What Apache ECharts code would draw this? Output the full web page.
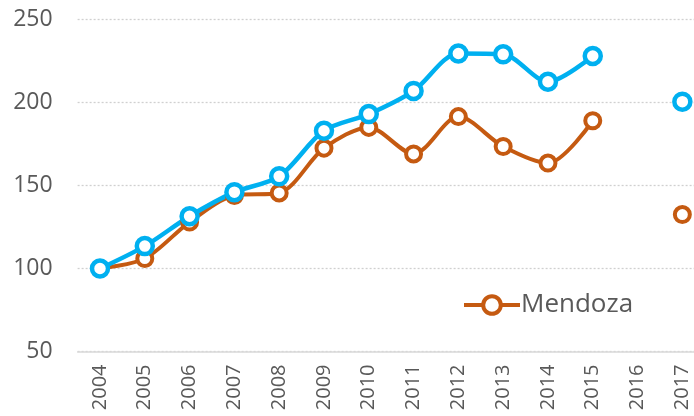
<!DOCTYPE html>
<html>
<head>
<meta charset="utf-8">
<script src="https://cdn.jsdelivr.net/npm/echarts@6/dist/echarts.min.js"></script>
<style>
  html, body { margin: 0; padding: 0; background: #fff; }
  #main { width: 694px; height: 416px; }
</style>
</head>
<body>
<div id="main"></div>
<script>
  // años y valores (índice 2004 = 100)
  var years = [2004, 2005, 2006, 2007, 2008, 2009, 2010, 2011, 2012, 2013, 2014, 2015, 2016, 2017];
  var mendoza = [100, 106, 128, 144, 145.5, 172.5, 185, 169, 191.5, 173.5, 163.5, 189, null, 132.5];
  var otra = [100, 113.5, 131.5, 146, 155.5, 183, 193, 207, 229.5, 229, 212.5, 228, null, 200.5];
  var yTicks = [50, 100, 150, 200, 250];

  var font = '"Open Sans", "Liberation Sans", sans-serif';
  var gris = '#595959';

  function pares(vals) {
    return years.map(function (y, i) { return [y, vals[i]]; });
  }

  var myChart = echarts.init(document.getElementById('main'));

  var option = {
    animation: false,
    grid: { left: 77.6, right: 0, top: 19.5, bottom: 64.5, containLabel: false },
    legend: {
      data: ['Mendoza'],
      left: 457,
      top: 287,
      itemWidth: 56,
      itemHeight: 22,
      lineStyle: { width: 4 },
      itemStyle: { borderWidth: 4 },
      textStyle: { fontFamily: font, fontSize: 26, color: gris, padding: [0, 0, 0, -4] }
    },
    xAxis: {
      type: 'value',
      // la última categoría queda cortada por el borde derecho, como en el original
      min: 2003.5,
      max: 2017.26,
      splitLine: { show: false },
      axisLine: { lineStyle: { color: '#d9d9d9', width: 1.5 } },
      axisTick: { show: false },
      axisLabel: {
        customValues: years,
        rotate: 90, margin: 13, fontFamily: font, fontSize: 20, color: gris,
        formatter: function (v) { return String(v); }
      }
    },
    yAxis: {
      type: 'value',
      min: yTicks[0],
      max: yTicks[yTicks.length - 1],
      interval: yTicks[1] - yTicks[0],
      axisLine: { show: false },
      axisTick: { show: false },
      axisLabel: { margin: 25, fontFamily: font, fontSize: 23, color: gris },
      splitLine: { lineStyle: { color: '#d0d0d0', type: [2, 2], width: 1.3 } }
    },
    series: [
      {
        name: 'Mendoza',
        type: 'line',
        data: pares(mendoza),
        smooth: 0.3,
        connectNulls: false,
        symbol: 'circle',
        symbolSize: 15,
        showAllSymbol: true,
        clip: false,
        lineStyle: { color: '#c55a11', width: 4 },
        itemStyle: { color: '#fff', borderColor: '#c55a11', borderWidth: 4 }
      },
      {
        name: 'Total',
        type: 'line',
        data: pares(otra),
        smooth: 0.3,
        connectNulls: false,
        symbol: 'circle',
        symbolSize: 16,
        showAllSymbol: true,
        clip: false,
        lineStyle: { color: '#00b0f0', width: 4.5 },
        itemStyle: { color: '#fff', borderColor: '#00b0f0', borderWidth: 4.5 }
      }
    ]
  };

  myChart.setOption(option);
</script>
</body>
</html>
